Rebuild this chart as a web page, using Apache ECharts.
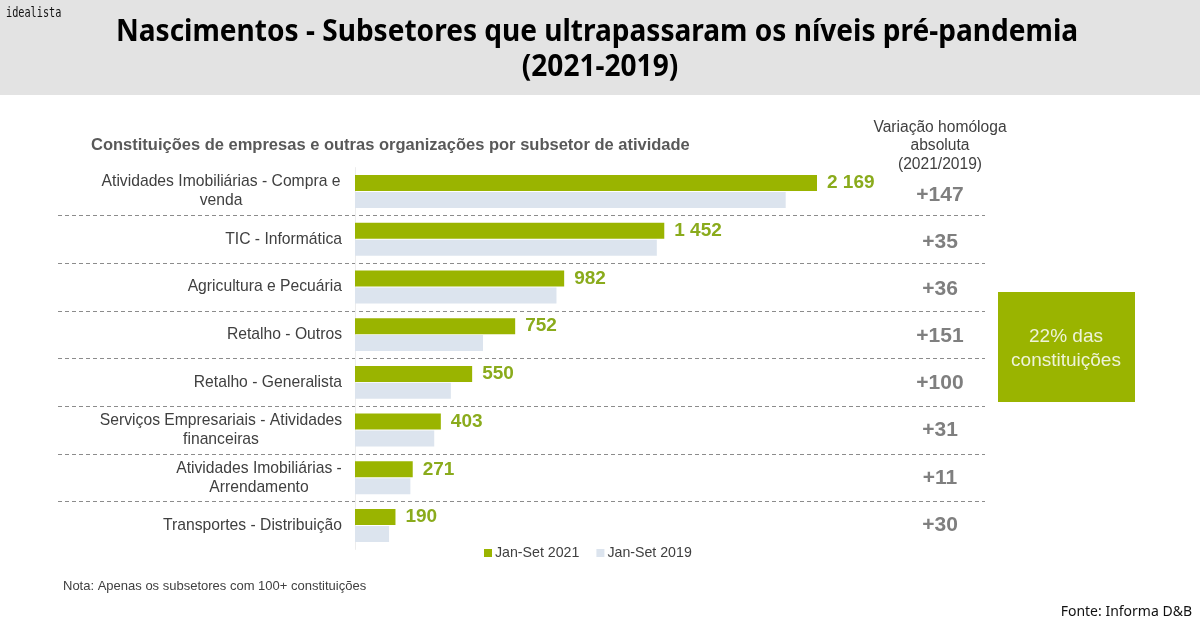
<!DOCTYPE html>
<html>
<head>
<meta charset="utf-8">
<style>html,body{margin:0;padding:0;background:#fff}#chart{width:1200px;height:627px}</style>
<script src="https://cdn.jsdelivr.net/npm/echarts@6/dist/echarts.min.js"></script>
</head>
<body>
<div id="chart"></div>
<script>
const categories = [
  'Atividades Imobiliárias - Compra e\nvenda',
  'TIC - Informática',
  'Agricultura e Pecuária',
  'Retalho - Outros',
  'Retalho - Generalista',
  'Serviços Empresariais - Atividades\nfinanceiras',
  'Atividades Imobiliárias -\nArrendamento',
  'Transportes - Distribuição'
];
const values2021 = [2169, 1452, 982, 752, 550, 403, 271, 190];
const values2019 = [2022, 1417, 946, 601, 450, 372, 260, 160];
const variations = ['+147', '+35', '+36', '+151', '+100', '+31', '+11', '+30'];

const GREEN = '#9ab400';
const PALE = '#dce4ee';
const FONT = '"Liberation Sans", Arial, sans-serif';

const chart = echarts.init(document.getElementById('chart'));

// linhas com varias linhas ficam centradas no bloco, o bloco fica alinhado a direita
function categoryLabel(text) {
  const lines = text.split('\n');
  if (lines.length === 1) return text;
  const key = lines[0].length > 30 ? 'wide' : 'mid';
  return lines.map(l => '{' + key + '|' + l + '}').join('\n');
}

chart.setOption({
  animation: false,
  textStyle: { fontFamily: FONT },
  grid: [
    { left: 355, width: 532.5, top: 167.6, height: 381.8 },
    { left: 58, right: 215, top: 167.6, height: 381.8 },
    { left: 890, width: 100, top: 171.5, height: 377 }
  ],
  xAxis: [
    { gridIndex: 0, type: 'value', min: 0, max: 2500, show: false },
    { gridIndex: 1, type: 'value', min: 0, max: 1, show: false },
    { gridIndex: 2, type: 'value', min: 0, max: 1, show: false }
  ],
  yAxis: [
    {
      gridIndex: 0, type: 'category', inverse: true, data: categories,
      axisLine: { show: true, lineStyle: { color: '#ececec' } },
      axisTick: { show: false },
      axisLabel: {
        margin: 13, color: '#404040', fontSize: 15.7, lineHeight: 19, align: 'right',
        formatter: categoryLabel,
        rich: {
          wide: { width: 242, align: 'center', fontSize: 15.7, lineHeight: 19, color: '#404040' },
          mid: { width: 166, align: 'center', fontSize: 15.7, lineHeight: 19, color: '#404040' }
        }
      }
    },
    {
      gridIndex: 1, type: 'category', inverse: true, data: categories,
      axisLine: { show: false }, axisTick: { show: false }, axisLabel: { show: false },
      splitLine: { show: true, showMinLine: false, showMaxLine: false, lineStyle: { color: '#8c8c8c', type: [4, 3], width: 1 } }
    },
    {
      gridIndex: 2, type: 'category', inverse: true, data: variations, position: 'left',
      axisLine: { show: false }, axisTick: { show: false },
      axisLabel: { inside: true, margin: 50, align: 'center', color: '#7f7f7f', fontSize: 21, fontWeight: 'bold' }
    }
  ],
  legend: {
    data: ['Jan-Set 2021', 'Jan-Set 2019'], left: 479, top: 541,
    itemWidth: 8, itemHeight: 8, itemGap: 17, icon: 'rect',
    textStyle: { color: '#404040', fontSize: 14.2, padding: [0, 0, 0, -2] }
  },
  series: [
    {
      name: 'Jan-Set 2021', type: 'bar', data: values2021, barWidth: 16, barGap: '6%', itemStyle: { color: GREEN },
      label: {
        show: true, position: 'right', distance: 10, color: '#8aab1c', fontSize: 19, fontWeight: 'bold',
        formatter: p => String(p.value).replace(/\B(?=(\d{3})+$)/g, ' ')
      }
    },
    { name: 'Jan-Set 2019', type: 'bar', data: values2019, barWidth: 16, itemStyle: { color: PALE } },
    { type: 'scatter', xAxisIndex: 1, yAxisIndex: 1, data: [], silent: true },
    { type: 'scatter', xAxisIndex: 2, yAxisIndex: 2, data: [], silent: true }
  ],
  graphic: [
    { type: 'rect', z: -1, shape: { x: 0, y: 0, width: 1200, height: 95 }, style: { fill: '#e3e3e3' } },
    { type: 'text', x: 6, y: 6, style: { text: 'idealista', fill: '#111', font: '14px "DejaVu Sans Mono"' }, scaleX: 0.73 },
    { type: 'text', x: 597, y: 32, style: { text: 'Nascimentos - Subsetores que ultrapassaram os níveis pré-pandemia', fill: '#000', font: 'bold 31px "Noto Sans"', align: 'center', verticalAlign: 'middle' }, scaleX: 0.905 },
    { type: 'text', x: 600, y: 67, style: { text: '(2021-2019)', fill: '#000', font: 'bold 31px "Noto Sans"', align: 'center', verticalAlign: 'middle' }, scaleX: 0.905 },
    { type: 'text', x: 91, y: 145, style: { text: 'Constituições de empresas e outras organizações por subsetor de atividade', fill: '#595959', font: 'bold 16.5px ' + FONT, verticalAlign: 'middle' } },
    { type: 'text', x: 940, y: 146, style: { text: 'Variação homóloga\nabsoluta\n(2021/2019)', fill: '#404040', font: '15.6px ' + FONT, align: 'center', verticalAlign: 'middle', lineHeight: 18.5 } },
    { type: 'rect', shape: { x: 998, y: 292, width: 137, height: 110 }, style: { fill: GREEN } },
    { type: 'text', x: 1066, y: 349, style: { text: '22% das\nconstituições', fill: '#eef3d8', font: '19px ' + FONT, align: 'center', verticalAlign: 'middle', lineHeight: 24 } },
    { type: 'text', x: 63, y: 586, style: { text: 'Nota: Apenas os subsetores com 100+ constituições', fill: '#404040', font: '13px ' + FONT, verticalAlign: 'middle' } },
    { type: 'text', x: 1192, y: 612, style: { text: 'Fonte: Informa D&B', fill: '#111', font: '14px "Noto Sans"', align: 'right', verticalAlign: 'middle' } }
  ]
});
</script>
</body>
</html>
